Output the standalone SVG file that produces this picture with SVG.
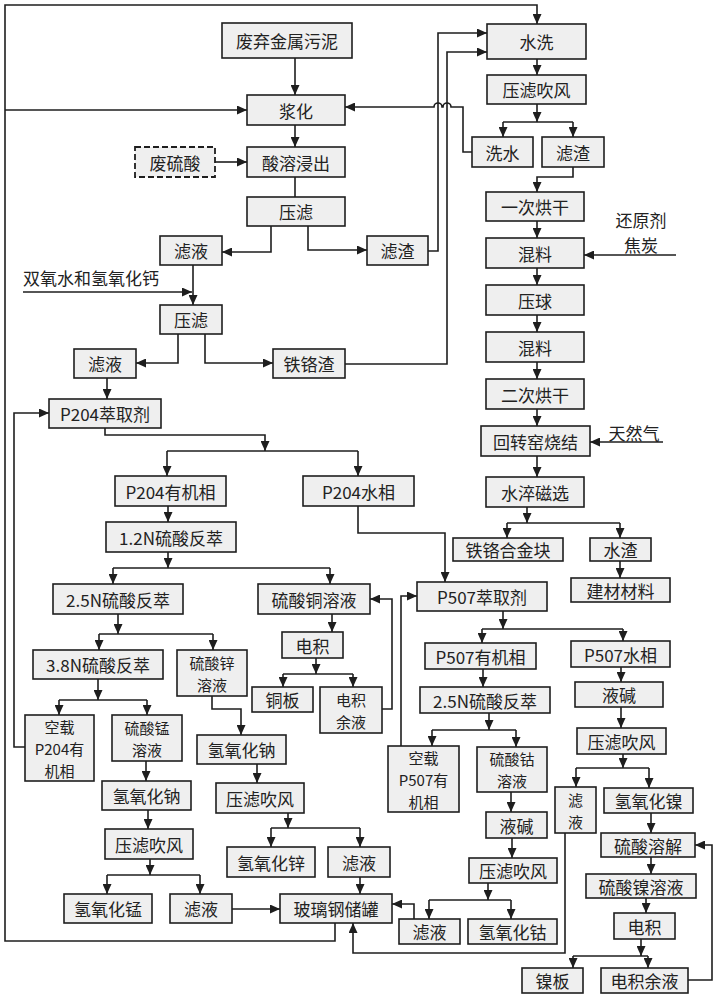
<svg xmlns="http://www.w3.org/2000/svg" width="717" height="1000" viewBox="0 0 717 1000">
<defs>
<marker id="ah" viewBox="0 0 10 9" refX="10" refY="4.5" markerWidth="10" markerHeight="9" markerUnits="userSpaceOnUse" orient="auto"><path d="M0,0 L10,4.5 L0,9 z" fill="#1e1e1e"/></marker>
<style>
rect{fill:#efefef;stroke:#1e1e1e;stroke-width:1.6}
rect.d{stroke-dasharray:6,3;stroke-width:1.8}
text{font-family:"Noto Sans CJK SC","Noto Sans CJK JP",sans-serif;font-size:17px;text-anchor:middle;dominant-baseline:central;fill:#222}
text.l{text-anchor:start}
text.m{font-size:15px}
#conn path{fill:none;stroke:#1e1e1e;stroke-width:1.6}
#conn path.a{marker-end:url(#ah)}
</style>
</defs>
<rect x="0" y="0" width="717" height="1000" style="fill:#fff;stroke:none"/>
<g id="conn">
<path class="a" d="M295,58 V95"/>
<path class="a" d="M295,125 V147"/>
<path class="a" d="M215,162 H247"/>
<path d="M295,177 V197"/>
<path class="a" d="M271,226 V252 H222"/>
<path class="a" d="M308,226 V250 H367"/>
<path class="a" d="M428,251 H438 V33 H487"/>
<path class="a" d="M345,364 H447 V52 H487"/>
<path class="a" d="M472,152 H463 V107 H451 a4,4 0 0 0 -8,0 H442 a4,4 0 0 0 -8,0 H345"/>
<path class="a" d="M537,59 V75"/>
<path class="a" d="M537,104 V122"/>
<path d="M503,122 H573"/>
<path class="a" d="M503,122 V137"/>
<path class="a" d="M573,122 V137"/>
<path class="a" d="M573,167 V177 H537 V192"/>
<path class="a" d="M537,221 V238"/>
<path class="a" d="M676,255 H584"/>
<path class="a" d="M537,268 V285"/>
<path class="a" d="M537,315 V332"/>
<path class="a" d="M537,362 V379"/>
<path class="a" d="M537,409 V426"/>
<path class="a" d="M663,442 H590"/>
<path class="a" d="M537,456 V477"/>
<path class="a" d="M527,507 V523"/>
<path d="M507,523 H620"/>
<path class="a" d="M507,523 V538"/>
<path class="a" d="M620,523 V538"/>
<path class="a" d="M620,561 V578"/>
<path class="a" d="M358,506 V533 H445 V582"/>
<path class="a" d="M401,746 V596 H417"/>
<path class="a" d="M503,611 V629"/>
<path d="M482,629 H623"/>
<path class="a" d="M482,629 V643"/>
<path class="a" d="M623,629 V641"/>
<path class="a" d="M483,669 V687"/>
<path class="a" d="M489,713 V730"/>
<path d="M432,730 H516"/>
<path class="a" d="M432,730 V746"/>
<path class="a" d="M516,730 V747"/>
<path class="a" d="M511,792 V812"/>
<path class="a" d="M512,838 V858"/>
<path class="a" d="M488,883 V900"/>
<path d="M429,900 H511"/>
<path class="a" d="M429,900 V919"/>
<path class="a" d="M511,900 V919"/>
<path class="a" d="M414,919 V904 H392"/>
<path class="a" d="M565,833 V953 H353 V923"/>
<path class="a" d="M621,667 V682"/>
<path class="a" d="M621,707 V728"/>
<path class="a" d="M623,754 V768"/>
<path d="M576,768 H649"/>
<path class="a" d="M576,768 V787"/>
<path class="a" d="M649,768 V788"/>
<path class="a" d="M651,813 V833"/>
<path class="a" d="M651,857 V874"/>
<path class="a" d="M646,898 V913"/>
<path class="a" d="M641,939 V956"/>
<path d="M573,956 H648"/>
<path class="a" d="M573,956 V968"/>
<path class="a" d="M648,956 V968"/>
<path class="a" d="M688,980 H712 V845 H695"/>
<path class="a" d="M193,265 V305"/>
<path class="a" d="M23,292 H192"/>
<path class="a" d="M178,334 V363 H136"/>
<path class="a" d="M205,334 V363 H273"/>
<path class="a" d="M107,378 V399"/>
<path class="a" d="M105,428 V435 H265 V451"/>
<path d="M167,451 H358"/>
<path class="a" d="M167,451 V476"/>
<path class="a" d="M358,451 V476"/>
<path class="a" d="M168,506 V522"/>
<path class="a" d="M168,552 V568"/>
<path d="M113,568 H330"/>
<path class="a" d="M113,568 V584"/>
<path class="a" d="M330,568 V584"/>
<path class="a" d="M118,614 V634"/>
<path d="M99,634 H213"/>
<path class="a" d="M99,634 V650"/>
<path class="a" d="M213,634 V650"/>
<path class="a" d="M98,679 V700"/>
<path d="M59,700 H147"/>
<path class="a" d="M59,700 V715"/>
<path class="a" d="M147,700 V715"/>
<path class="a" d="M332,614 V632"/>
<path class="a" d="M316,658 V674"/>
<path d="M283,674 H353"/>
<path class="a" d="M283,674 V687"/>
<path class="a" d="M353,674 V687"/>
<path class="a" d="M382,709 H392 V599 H370"/>
<path class="a" d="M212,696 V709 H241 V735"/>
<path class="a" d="M257,764 V783"/>
<path class="a" d="M288,813 V828"/>
<path d="M271,828 H360"/>
<path class="a" d="M271,828 V847"/>
<path class="a" d="M360,828 V847"/>
<path class="a" d="M360,877 V894"/>
<path class="a" d="M146,761 V781"/>
<path class="a" d="M148,810 V829"/>
<path class="a" d="M150,859 V875"/>
<path d="M107,875 H200"/>
<path class="a" d="M107,875 V894"/>
<path class="a" d="M200,875 V894"/>
<path class="a" d="M232,909 H280"/>
<path class="a" d="M335,923 V941 H5 V5 H537 V24"/>
<path class="a" d="M5,110 H247"/>
<path class="a" d="M25,747 H14 V413 H49"/>
</g>
<g id="labels">
<text class="l" x="23" y="277">双氧水和氢氧化钙</text>
<text x="641" y="219">还原剂</text>
<text x="641" y="244">焦炭</text>
<text x="634" y="432">天然气</text>
</g>
<g id="n01"><rect x="222" y="23" width="130" height="35"/><text x="287" y="40.5">废弃金属污泥</text></g>
<g id="n02"><rect x="247" y="95" width="98" height="30"/><text x="296" y="110">浆化</text></g>
<g id="n03"><rect class="d" x="135" y="147" width="80" height="30"/><text x="175" y="162">废硫酸</text></g>
<g id="n04"><rect x="247" y="147" width="98" height="30"/><text x="296" y="162">酸溶浸出</text></g>
<g id="n05"><rect x="247" y="197" width="98" height="29"/><text x="296" y="211.5">压滤</text></g>
<g id="n06"><rect x="160" y="236" width="62" height="29"/><text x="191" y="250.5">滤液</text></g>
<g id="n07"><rect x="367" y="236" width="61" height="29"/><text x="397.5" y="250.5">滤渣</text></g>
<g id="n08"><rect x="487" y="24" width="99" height="35"/><text x="536.5" y="41.5">水洗</text></g>
<g id="n09"><rect x="487" y="75" width="99" height="29"/><text x="536.5" y="89.5">压滤吹风</text></g>
<g id="n10"><rect x="472" y="137" width="61" height="30"/><text x="502.5" y="152">洗水</text></g>
<g id="n11"><rect x="542" y="137" width="62" height="30"/><text x="573" y="152">滤渣</text></g>
<g id="n12"><rect x="486" y="192" width="98" height="29"/><text x="535" y="206.5">一次烘干</text></g>
<g id="n13"><rect x="486" y="238" width="98" height="30"/><text x="535" y="253">混料</text></g>
<g id="n14"><rect x="486" y="285" width="98" height="30"/><text x="535" y="300">压球</text></g>
<g id="n15"><rect x="486" y="332" width="98" height="30"/><text x="535" y="347">混料</text></g>
<g id="n16"><rect x="486" y="379" width="98" height="30"/><text x="535" y="394">二次烘干</text></g>
<g id="n17"><rect x="481" y="426" width="109" height="30"/><text x="535.5" y="441">回转窑烧结</text></g>
<g id="n18"><rect x="486" y="477" width="98" height="30"/><text x="535" y="492">水淬磁选</text></g>
<g id="n19"><rect x="453" y="538" width="110" height="23"/><text x="508" y="549.5">铁铬合金块</text></g>
<g id="n20"><rect x="590" y="538" width="61" height="23"/><text x="620.5" y="549.5">水渣</text></g>
<g id="n21"><rect x="571" y="578" width="99" height="24"/><text x="620.5" y="590">建材材料</text></g>
<g id="n22"><rect x="160" y="305" width="62" height="29"/><text x="191" y="319.5">压滤</text></g>
<g id="n23"><rect x="74" y="349" width="62" height="29"/><text x="105" y="363.5">滤液</text></g>
<g id="n24"><rect x="273" y="349" width="72" height="29"/><text x="309" y="363.5">铁铬渣</text></g>
<g id="n25"><rect x="49" y="399" width="112" height="29"/><text x="105" y="413.5">P204萃取剂</text></g>
<g id="n26"><rect x="115" y="476" width="111" height="30"/><text x="170.5" y="491">P204有机相</text></g>
<g id="n27"><rect x="303" y="476" width="111" height="30"/><text x="358.5" y="491">P204水相</text></g>
<g id="n28"><rect x="106" y="522" width="130" height="30"/><text x="171" y="537">1.2N硫酸反萃</text></g>
<g id="n29"><rect x="53" y="584" width="130" height="30"/><text x="118" y="599">2.5N硫酸反萃</text></g>
<g id="n30"><rect x="258" y="584" width="112" height="30"/><text x="314" y="599">硫酸铜溶液</text></g>
<g id="n31"><rect x="33" y="650" width="130" height="29"/><text x="98" y="664.5">3.8N硫酸反萃</text></g>
<g id="n32"><rect x="177" y="650" width="70" height="46"/><text class="m" x="212" y="662">硫酸锌</text><text class="m" x="212" y="684">溶液</text></g>
<g id="n33"><rect x="282" y="632" width="61" height="26"/><text x="312.5" y="645">电积</text></g>
<g id="n34"><rect x="252" y="687" width="61" height="25"/><text x="282.5" y="699.5">铜板</text></g>
<g id="n35"><rect x="320" y="687" width="62" height="46"/><text class="m" x="351" y="699">电积</text><text class="m" x="351" y="721">余液</text></g>
<g id="n36"><rect x="25" y="715" width="69" height="66"/><text class="m" x="59.5" y="726">空载</text><text class="m" x="59.5" y="748">P204有</text><text class="m" x="59.5" y="770">机相</text></g>
<g id="n37"><rect x="112" y="715" width="70" height="46"/><text class="m" x="147" y="727">硫酸锰</text><text class="m" x="147" y="749">溶液</text></g>
<g id="n38"><rect x="102" y="781" width="89" height="29"/><text x="146.5" y="795.5">氢氧化钠</text></g>
<g id="n39"><rect x="105" y="829" width="88" height="30"/><text x="149" y="844">压滤吹风</text></g>
<g id="n40"><rect x="64" y="894" width="88" height="29"/><text x="108" y="908.5">氢氧化锰</text></g>
<g id="n41"><rect x="170" y="894" width="62" height="29"/><text x="201" y="908.5">滤液</text></g>
<g id="n42"><rect x="197" y="735" width="89" height="29"/><text x="241.5" y="749.5">氢氧化钠</text></g>
<g id="n43"><rect x="216" y="783" width="88" height="30"/><text x="260" y="798">压滤吹风</text></g>
<g id="n44"><rect x="227" y="847" width="88" height="30"/><text x="271" y="862">氢氧化锌</text></g>
<g id="n45"><rect x="328" y="847" width="62" height="30"/><text x="359" y="862">滤液</text></g>
<g id="n46"><rect x="280" y="894" width="112" height="29"/><text x="336" y="908.5">玻璃钢储罐</text></g>
<g id="n47"><rect x="417" y="582" width="130" height="29"/><text x="482" y="596.5">P507萃取剂</text></g>
<g id="n48"><rect x="425" y="643" width="111" height="26"/><text x="480.5" y="656">P507有机相</text></g>
<g id="n49"><rect x="571" y="641" width="99" height="26"/><text x="620.5" y="654">P507水相</text></g>
<g id="n50"><rect x="420" y="687" width="130" height="26"/><text x="485" y="700">2.5N硫酸反萃</text></g>
<g id="n51"><rect x="388" y="746" width="71" height="66"/><text class="m" x="423.5" y="757">空载</text><text class="m" x="423.5" y="779">P507有</text><text class="m" x="423.5" y="801">机相</text></g>
<g id="n52"><rect x="477" y="747" width="70" height="45"/><text class="m" x="512" y="758">硫酸钴</text><text class="m" x="512" y="780">溶液</text></g>
<g id="n53"><rect x="486" y="812" width="61" height="26"/><text x="516.5" y="825">液碱</text></g>
<g id="n54"><rect x="469" y="858" width="88" height="25"/><text x="513" y="870.5">压滤吹风</text></g>
<g id="n55"><rect x="399" y="919" width="61" height="25"/><text x="429.5" y="931.5">滤液</text></g>
<g id="n56"><rect x="468" y="919" width="89" height="25"/><text x="512.5" y="931.5">氢氧化钴</text></g>
<g id="n57"><rect x="575" y="682" width="88" height="25"/><text x="619" y="694.5">液碱</text></g>
<g id="n58"><rect x="577" y="728" width="89" height="26"/><text x="621.5" y="741">压滤吹风</text></g>
<g id="n59"><rect x="555" y="787" width="41" height="46"/><text class="m" x="575.5" y="799">滤</text><text class="m" x="575.5" y="821">液</text></g>
<g id="n60"><rect x="604" y="788" width="89" height="25"/><text x="648.5" y="800.5">氢氧化镍</text></g>
<g id="n61"><rect x="601" y="833" width="94" height="24"/><text x="648" y="845">硫酸溶解</text></g>
<g id="n62"><rect x="586" y="874" width="110" height="24"/><text x="641" y="886">硫酸镍溶液</text></g>
<g id="n63"><rect x="614" y="913" width="61" height="26"/><text x="644.5" y="926">电积</text></g>
<g id="n64"><rect x="522" y="968" width="61" height="25"/><text x="552.5" y="980.5">镍板</text></g>
<g id="n65"><rect x="601" y="968" width="87" height="25"/><text x="644.5" y="980.5">电积余液</text></g>
</svg>
